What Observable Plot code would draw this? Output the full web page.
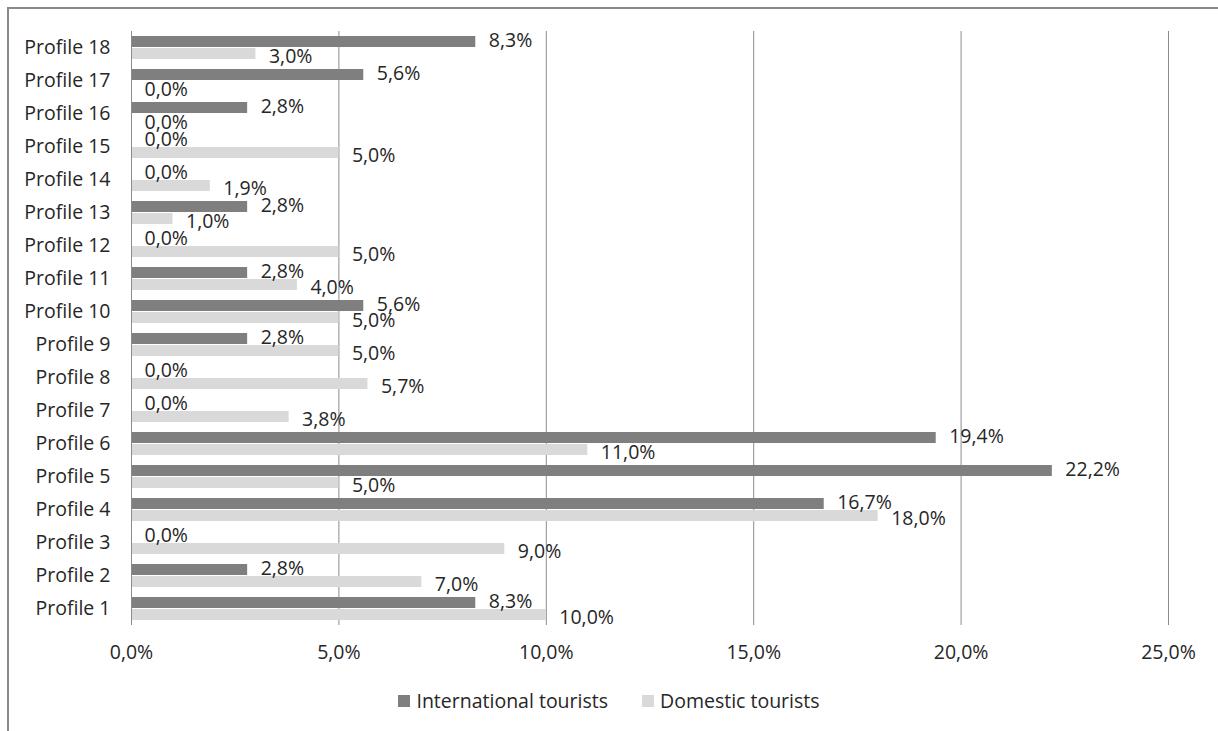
<!DOCTYPE html>
<html>
<head>
<meta charset="utf-8">
<script src="https://cdn.jsdelivr.net/npm/d3@7"></script>
<script src="https://cdn.jsdelivr.net/npm/@observablehq/plot@0.6"></script>
<style>
  html, body { margin: 0; padding: 0; background: #fff; }
  body { width: 1218px; height: 731px; position: relative; overflow: hidden; font-family: "Open Sans", sans-serif; }
  #frame { position: absolute; left: 7px; top: 7px; width: 1300px; height: 800px; border-left: 2px solid #8a8a8a; border-top: 2px solid #8a8a8a; box-sizing: border-box; }
  #chart { position: absolute; left: 0; top: 0; }
  #legend { position: absolute; top: 687px; left: 0; width: 1218px; display: flex; justify-content: center; font-size: 19.5px; color: #262626; }
  .item { display: flex; align-items: center; margin: 0 17px; }
  .sw { width: 12px; height: 12px; margin-right: 6px; display: inline-block; }
</style>
</head>
<body>
<div id="frame"></div>
<div id="chart"></div>
<div id="legend"></div>
<script>
const profiles = ["Profile 1","Profile 2","Profile 3","Profile 4","Profile 5","Profile 6","Profile 7","Profile 8","Profile 9","Profile 10","Profile 11","Profile 12","Profile 13","Profile 14","Profile 15","Profile 16","Profile 17","Profile 18"];
const international = [8.3, 2.8, 0.0, 16.7, 22.2, 19.4, 0.0, 0.0, 2.8, 5.6, 2.8, 0.0, 2.8, 0.0, 0.0, 2.8, 5.6, 8.3];
const domestic = [10.0, 7.0, 9.0, 18.0, 5.0, 11.0, 3.8, 5.7, 5.0, 5.0, 4.0, 5.0, 1.0, 1.9, 5.0, 0.0, 0.0, 3.0];
const seriesNames = ["International tourists", "Domestic tourists"];
const seriesColors = ["#7f7f7f", "#d9d9d9"];
const xTicks = [0, 5, 10, 15, 20, 25];

const rows = [];
profiles.forEach((p, i) => {
  rows.push({profile: p, series: seriesNames[0], value: international[i]});
  rows.push({profile: p, series: seriesNames[1], value: domestic[i]});
});
const fmt = d => d.toFixed(1).replace(".", ",") + "%";

const chart = Plot.plot({
  width: 1218,
  height: 680,
  marginLeft: 131,
  marginRight: 50,
  marginTop: 23,
  marginBottom: 47,
  style: {fontFamily: "'Open Sans', sans-serif", fontSize: "19.5px", color: "#262626", background: "transparent"},
  fy: {domain: profiles.slice().reverse(), padding: 0, label: null, axis: "left", tickSize: 0, tickPadding: 21},
  y: {domain: seriesNames, axis: null, paddingInner: 0.09, paddingOuter: 0.38},
  x: {domain: [0, 25], ticks: xTicks, tickFormat: fmt, label: null, axis: null},
  color: {domain: seriesNames, range: seriesColors},
  marks: [
    Plot.gridX(xTicks.filter(d => d > 0), {stroke: "#8c8c8c", strokeOpacity: 1, strokeWidth: 1}),
    Plot.barX(rows, {fy: "profile", y: "series", x: "value", fill: "series"}),
    Plot.ruleX([0], {stroke: "#8c8c8c", strokeWidth: 1}),
    Plot.text(rows.filter(d => d.series === seriesNames[0]), {fy: "profile", y: "series", x: "value", text: d => fmt(d.value), dx: 13, dy: -1, textAnchor: "start", fill: "#262626"}),
    Plot.text(rows.filter(d => d.series === seriesNames[1]), {fy: "profile", y: "series", x: "value", text: d => fmt(d.value), dx: 13, dy: 3, textAnchor: "start", fill: "#262626"}),
    Plot.axisX({facetAnchor: "bottom", ticks: xTicks, tickFormat: fmt, tickSize: 0, tickPadding: 20, label: null, fill: "#262626"})
  ]
});
document.getElementById("chart").appendChild(chart);

const legend = document.getElementById("legend");
seriesNames.forEach((s, i) => {
  const item = document.createElement("div");
  item.className = "item";
  const sw = document.createElement("span");
  sw.className = "sw";
  sw.style.background = seriesColors[i];
  const t = document.createElement("span");
  t.textContent = s;
  item.appendChild(sw);
  item.appendChild(t);
  legend.appendChild(item);
});
</script>
</body>
</html>
